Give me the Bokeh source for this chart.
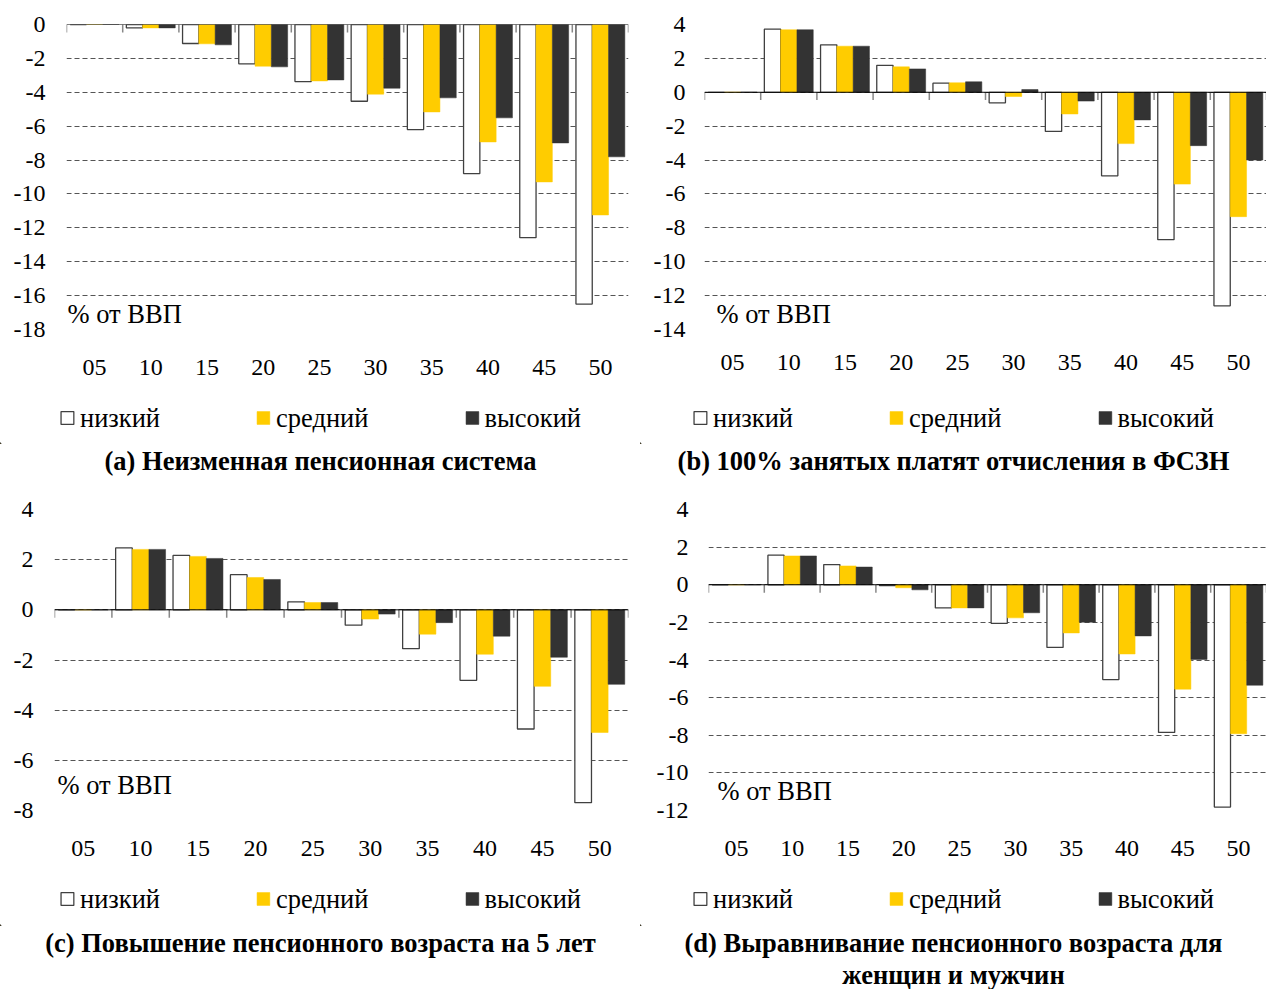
from bokeh.plotting import figure
from bokeh.models import (ColumnDataSource, Range1d, FixedTicker, Span,
                          Legend, LegendItem, Title, Label)
from bokeh.layouts import column, row
from bokeh.transform import dodge
from bokeh.embed import file_html
from bokeh.resources import INLINE

# ---------------- data ----------------
categories = ["05", "10", "15", "20", "25", "30", "35", "40", "45", "50"]
series_labels = ["низкий", "средний", "высокий"]
unit_label = "% от ВВП"

# (a) Неизменная пенсионная система
a_low = [0.0, -0.2, -1.12, -2.32, -3.37, -4.53, -6.2, -8.8, -12.58, -16.5]
a_mid = [0.0, -0.2, -1.14, -2.46, -3.33, -4.11, -5.16, -6.93, -9.29, -11.24]
a_high = [0.0, -0.2, -1.2, -2.5, -3.27, -3.76, -4.33, -5.51, -6.99, -7.81]

# (b) 100% занятых платят отчисления в ФСЗН
b_low = [0.0, 3.73, 2.8, 1.59, 0.54, -0.62, -2.31, -4.93, -8.7, -12.6]
b_mid = [0.0, 3.69, 2.72, 1.5, 0.56, -0.25, -1.28, -3.03, -5.42, -7.34]
b_high = [0.0, 3.69, 2.72, 1.38, 0.62, 0.16, -0.52, -1.63, -3.15, -4.0]

# (c) Повышение пенсионного возраста на 5 лет
c_low = [0.0, 2.47, 2.17, 1.4, 0.32, -0.61, -1.55, -2.81, -4.75, -7.69]
c_mid = [0.0, 2.41, 2.13, 1.29, 0.29, -0.37, -0.97, -1.77, -3.05, -4.89]
c_high = [0.0, 2.41, 2.05, 1.21, 0.29, -0.17, -0.51, -1.05, -1.89, -2.97]

# (d) Выравнивание пенсионного возраста для женщин и мужчин
d_low = [0.0, 1.57, 1.07, -0.05, -1.23, -2.05, -3.33, -5.04, -7.85, -11.82]
d_mid = [0.0, 1.53, 1.0, -0.16, -1.23, -1.76, -2.56, -3.68, -5.55, -7.92]
d_high = [0.0, 1.53, 0.94, -0.27, -1.23, -1.49, -1.99, -2.72, -3.97, -5.34]

title_lines = [
    ["(a) Неизменная пенсионная система"],
    ["(b) 100% занятых платят отчисления в ФСЗН"],
    ["(c) Повышение пенсионного возраста на 5 лет"],
    ["(d) Выравнивание пенсионного возраста для", "женщин и мужчин"],
]
y_limits = [(-18, 0), (-14, 4), (-8, 4), (-12, 4)]

# ---------------- styles ----------------
FONT = "Liberation Serif"
FS = "26.5px"      # legend, titles, unit label
AFS = "24px"       # axis tick labels
FILLS = ["white", "#FFCC00", "#333333"]
LINES = ["#404040", "#FFCC00", "#333333"]
OFFSETS = [-0.29, 0.0, 0.29]
BAR_W = 0.29
TICK_PX = 8
KEYS = ["low", "mid", "high"]


def make_source(vals):
    return ColumnDataSource(dict(x=list(range(len(categories))),
                                 low=vals[0], mid=vals[1], high=vals[2]))


def add_bars(p, src):
    rends = []
    for key, off, fc, lc in zip(KEYS, OFFSETS, FILLS, LINES):
        rends.append(p.vbar(x=dodge("x", off, range=p.x_range), top=key, bottom=0,
                            width=BAR_W, source=src, fill_color=fc, line_color=lc,
                            line_width=1.3 if key == "low" else 0.5))
    return rends


def make_chart(vals, ylim, w, h, bl, br, bt, bb, lab_off, xstand, ystand):
    n = len(categories)
    frame_h = h - bt - bb
    src = make_source(vals)
    p = figure(width=w, height=h,
               x_range=Range1d(-0.5, n - 0.5), y_range=Range1d(ylim[0], ylim[1]),
               output_backend="svg", toolbar_location=None,
               min_border_left=bl, min_border_right=br, min_border_top=bt, min_border_bottom=bb,
               outline_line_color=None, background_fill_color="white",
               border_fill_color="white")
    add_bars(p, src)

    ticks = list(range(ylim[0], ylim[1] + 1, 2))
    yax = p.yaxis[0]
    yax.ticker = FixedTicker(ticks=ticks)
    yax.major_label_overrides = {t: str(t) for t in ticks}
    yax.axis_line_color = None
    yax.major_tick_line_color = None
    yax.minor_tick_line_color = None
    yax.major_tick_out = 0
    yax.minor_tick_out = 0
    yax.major_label_standoff = ystand
    yax.major_label_text_font = FONT
    yax.major_label_text_font_size = AFS
    yax.major_label_text_color = "black"

    p.ygrid.ticker = FixedTicker(ticks=ticks)
    p.ygrid.grid_line_color = "#555555"
    p.ygrid.grid_line_dash = "5 3"
    p.xgrid.visible = False

    xax = p.xaxis[0]
    xax.ticker = FixedTicker(ticks=list(range(n)))
    xax.major_label_overrides = {i: c for i, c in enumerate(categories)}
    xax.axis_line_color = None
    xax.major_tick_line_color = None
    xax.minor_tick_line_color = None
    xax.major_tick_out = 0
    xax.minor_tick_out = 0
    xax.major_label_standoff = xstand
    xax.major_label_text_font = FONT
    xax.major_label_text_font_size = AFS
    xax.major_label_text_color = "black"

    # zero line with ticks at category boundaries
    tick_len = TICK_PX * (ylim[1] - ylim[0]) / frame_h
    bounds = [i - 0.5 for i in range(n + 1)]
    p.segment(x0=bounds, y0=[0] * len(bounds), x1=bounds, y1=[-tick_len] * len(bounds),
              line_color="#888888", line_width=1.5)
    p.add_layout(Span(location=0, dimension="width", line_color="black", line_width=1))

    p.add_layout(Label(x=-0.5, y=ylim[0], x_offset=lab_off[0], y_offset=lab_off[1],
                       text=unit_label, text_font=FONT, text_font_size=FS,
                       text_color="black", text_baseline="middle"))
    return p


def make_footer(vals, lines, w, h, bb):
    src = make_source(vals)
    p = figure(width=w, height=h, x_range=Range1d(1000, 1001), y_range=Range1d(1000, 1001),
               x_axis_location=None, y_axis_location=None,
               output_backend="svg", toolbar_location=None,
               min_border_left=0, min_border_right=0, min_border_top=0, min_border_bottom=bb,
               outline_line_color=None, background_fill_color="white",
               border_fill_color="white")
    p.xgrid.visible = False
    p.ygrid.visible = False
    rends = add_bars(p, src)
    legend = Legend(items=[LegendItem(label=s, renderers=[r]) for s, r in zip(series_labels, rends)],
                    orientation="horizontal", location="center",
                    glyph_width=16, glyph_height=16, label_standoff=5, spacing=95,
                    padding=0, margin=0, border_line_color=None, background_fill_alpha=0,
                    label_text_font=FONT, label_text_font_size=FS, label_text_color="black")
    p.add_layout(legend)
    for line in lines:
        p.add_layout(Title(text=line, align="center", text_font=FONT, text_font_size=FS,
                           text_font_style="bold", text_color="black", standoff=0), "below")
    return p


ca = make_chart([a_low, a_mid, a_high], y_limits[0], 640, 392, 66, 12, 24, 63, (1, 16), 30, 21)
cb = make_chart([b_low, b_mid, b_high], y_limits[1], 626, 392, 64, 0, 21, 60, (12, 16), 25, 19)
cc = make_chart([c_low, c_mid, c_high], y_limits[2], 640, 382, 54, 12, 19, 62, (3, 26), 30, 21)
cd = make_chart([d_low, d_mid, d_high], y_limits[3], 626, 382, 68, 0, 19, 62, (9, 20), 30, 20)

fa = make_footer([a_low, a_mid, a_high], title_lines[0], 640, 98, 47)
fb = make_footer([b_low, b_mid, b_high], title_lines[1], 626, 98, 47)
fc = make_footer([c_low, c_mid, c_high], title_lines[2], 640, 117, 64)
fd = make_footer([d_low, d_mid, d_high], title_lines[3], 626, 117, 64)

layout = column(row(ca, cb), row(fa, fb), row(cc, cd), row(fc, fd))
open("out.html", "w").write(file_html(layout, INLINE))
